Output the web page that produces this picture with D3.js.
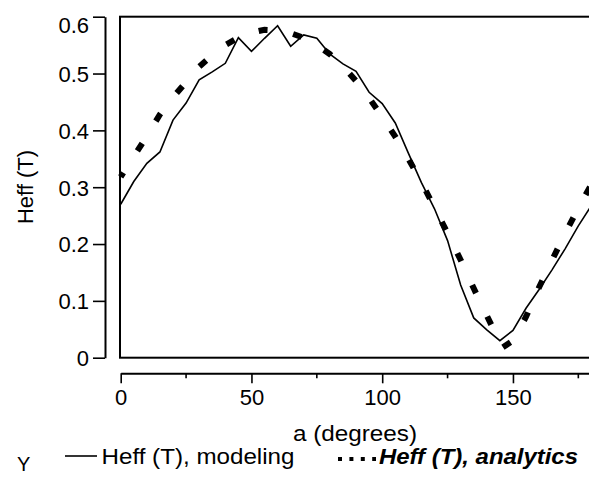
<!DOCTYPE html>
<html>
<head>
<meta charset="utf-8">
<script src="https://cdn.jsdelivr.net/npm/d3@7"></script>
<style>
  body { margin: 0; background: #fff; }
  svg { display: block; font-family: "Liberation Sans", Arial, sans-serif; }
</style>
</head>
<body>
<svg width="589" height="477"></svg>
<script>
//Chart data
const modelDeg = [0, 5, 10, 15, 20, 25, 30, 35, 40, 45, 50, 55, 60, 65, 70, 75, 80, 85, 90, 95, 100, 105, 110, 115, 120, 125, 130, 135, 140, 145, 150, 155, 160, 165, 170, 175, 180];
const modelVal = [0.27, 0.31, 0.342, 0.362, 0.418, 0.448, 0.489, 0.503, 0.518, 0.563, 0.539, 0.562, 0.584, 0.548, 0.568, 0.562, 0.534, 0.517, 0.504, 0.467, 0.447, 0.413, 0.36, 0.308, 0.262, 0.206, 0.128, 0.07, 0.049, 0.03, 0.048, 0.087, 0.12, 0.155, 0.192, 0.232, 0.268];
const analyticDeg = [0, 5, 10, 15, 20, 25, 30, 35, 40, 45, 50, 55, 60, 65, 70, 75, 80, 85, 90, 95, 100, 105, 110, 115, 120, 125, 130, 135, 140, 146, 150, 155, 160, 165, 170, 175, 180];
const analyticVal = [0.318, 0.354, 0.39, 0.428, 0.458, 0.485, 0.512, 0.532, 0.55, 0.563, 0.572, 0.577, 0.576, 0.571, 0.563, 0.55, 0.534, 0.513, 0.487, 0.457, 0.424, 0.389, 0.35, 0.309, 0.264, 0.219, 0.172, 0.122, 0.074, 0.018, 0.03, 0.072, 0.124, 0.172, 0.219, 0.263, 0.305];
const xTicks = [0, 50, 100, 150];
const xMinorTicks = [25, 75, 125, 175];
const yTicks = [0, 0.1, 0.2, 0.3, 0.4, 0.5, 0.6];
const xTitle = "a (degrees)";
const yTitle = "Heff (T)";
const seriesNames = ["Heff (T), modeling", "Heff (T), analytics"];

const svg = d3.select("svg");
const x = d3.scaleLinear().domain([0, 180]).range([120.7, 591.4]);
const y = d3.scaleLinear().domain([0, 0.6]).range([357.7, 16.7]);

//Plot box
svg.append("rect")
  .attr("x", x(0) - 0.7).attr("y", y(0.6))
  .attr("width", x(180) - x(0) + 0.7).attr("height", y(0) - y(0.6))
  .attr("fill", "none").attr("stroke", "#000").attr("stroke-width", 2);

//Y axis, offset to the left of the box
const yAxis = svg.append("g").attr("transform", "translate(105,0)")
  .call(d3.axisLeft(y).tickValues(yTicks).tickFormat(d3.format("")).tickSize(12).tickSizeOuter(0).tickPadding(4));
yAxis.select(".domain").attr("stroke-width", 2);
yAxis.selectAll(".tick line").attr("stroke-width", 1.6);
yAxis.selectAll(".tick text").attr("font-size", 22).attr("font-family", "inherit").attr("fill", "#000")
  .attr("dy", d => d === 0.6 ? "0.71em" : "0.36em");

//X axis, offset below the box
const xAxis = svg.append("g").attr("transform", "translate(0,373.3)")
  .call(d3.axisBottom(x).tickValues(xTicks).tickSize(10).tickSizeOuter(0).tickPadding(6));
xAxis.select(".domain").attr("stroke-width", 2);
xAxis.selectAll(".tick line").attr("stroke-width", 1.6);
xAxis.selectAll(".tick text").attr("font-size", 22).attr("font-family", "inherit").attr("fill", "#000");
svg.append("g").attr("transform", "translate(0,373.3)")
  .selectAll("line").data(xMinorTicks).enter().append("line")
  .attr("x1", d => x(d)).attr("x2", d => x(d)).attr("y1", 0).attr("y2", 5)
  .attr("stroke", "#000").attr("stroke-width", 1.6);

//Axis titles
svg.append("text").text(xTitle).attr("x", 355).attr("y", 440.5)
  .attr("text-anchor", "middle").attr("font-size", 22)
  .attr("textLength", 124).attr("lengthAdjust", "spacingAndGlyphs");
svg.append("text").text(yTitle).attr("transform", "translate(33,187) rotate(-90)")
  .attr("text-anchor", "middle").attr("font-size", 22);

//Series
const line = d3.line().x(d => x(d[0])).y(d => y(d[1]));
svg.append("path").datum(analyticDeg.map((d, i) => [d, analyticVal[i]]))
  .attr("d", line).attr("fill", "none").attr("stroke", "#000")
  .attr("stroke-width", 6).attr("stroke-dasharray", "9,26").attr("stroke-dashoffset", 4);
svg.append("path").datum(modelDeg.map((d, i) => [d, modelVal[i]]))
  .attr("d", line).attr("fill", "none").attr("stroke", "#000")
  .attr("stroke-width", 1.6).attr("stroke-linejoin", "miter");

//Legend
const legend = svg.append("g").attr("id", "legend");
legend.append("text").text("Y").attr("x", 17).attr("y", 471).attr("font-size", 20);
legend.append("line").attr("x1", 65).attr("x2", 97).attr("y1", 456).attr("y2", 456)
  .attr("stroke", "#000").attr("stroke-width", 1.6);
legend.append("text").text(seriesNames[0]).attr("x", 101.5).attr("y", 463.5).attr("font-size", 22)
  .attr("textLength", 193).attr("lengthAdjust", "spacingAndGlyphs");
legend.append("line").attr("x1", 338).attr("x2", 376).attr("y1", 459).attr("y2", 459)
  .attr("stroke", "#000").attr("stroke-width", 4).attr("stroke-dasharray", "4,7.4");
legend.append("text").text(seriesNames[1]).attr("x", 379).attr("y", 463.5).attr("font-size", 22)
  .attr("font-weight", "bold").attr("font-style", "italic")
  .attr("textLength", 199).attr("lengthAdjust", "spacingAndGlyphs");
</script>
</body>
</html>
